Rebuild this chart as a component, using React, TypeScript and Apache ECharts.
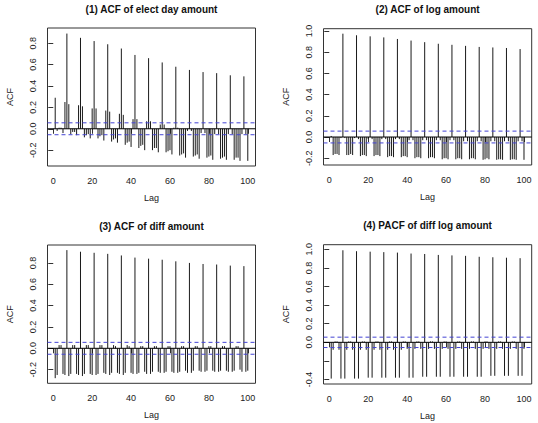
import React, { useEffect, useRef } from "react";
import * as echarts from "echarts";

// Lags 1..100 shared by every panel
const lags: number[] = Array.from({ length: 100 }, (_, i) => i + 1);

// (1) ACF of elect day amount
const acfElect: number[] = [
  0.29, -0.02, 0.01, 0.01, -0.04, 0.25, 0.89,
  0.23, -0.05, -0.03, -0.03, -0.06, 0.22, 0.85,
  0.21, -0.08, -0.06, -0.05, -0.09, 0.19, 0.82,
  0.19, -0.09, -0.07, -0.06, -0.11, 0.17, 0.79,
  0.16, -0.12, -0.10, -0.09, -0.13, 0.14, 0.75,
  0.13, -0.15, -0.13, -0.12, -0.17, 0.09, 0.69,
  0.09, -0.18, -0.16, -0.15, -0.20, 0.07, 0.66,
  0.07, -0.20, -0.18, -0.18, -0.22, 0.04, 0.62,
  0.04, -0.22, -0.21, -0.20, -0.24, 0.01, 0.58,
  0.01, -0.25, -0.24, -0.23, -0.27, -0.02, 0.55,
  -0.02, -0.26, -0.25, -0.24, -0.28, -0.04, 0.53,
  -0.04, -0.27, -0.26, -0.25, -0.29, -0.05, 0.52,
  -0.05, -0.28, -0.27, -0.26, -0.29, -0.05, 0.50,
  -0.05, -0.29, -0.27, -0.27, -0.30, -0.05, 0.49,
  -0.05, -0.30,
];

// (2) ACF of log amount
const acfLog: number[] = [
  0.01, -0.17, -0.16, -0.16, -0.17, -0.01, 0.975,
  -0.01, -0.17, -0.17, -0.16, -0.17, -0.01, 0.96,
  -0.02, -0.18, -0.17, -0.17, -0.18, -0.02, 0.95,
  -0.02, -0.18, -0.17, -0.17, -0.18, -0.02, 0.94,
  -0.02, -0.19, -0.18, -0.18, -0.19, -0.02, 0.925,
  -0.02, -0.19, -0.18, -0.18, -0.19, -0.03, 0.91,
  -0.03, -0.20, -0.19, -0.19, -0.20, -0.03, 0.895,
  -0.03, -0.20, -0.19, -0.19, -0.20, -0.03, 0.88,
  -0.03, -0.21, -0.20, -0.20, -0.21, -0.03, 0.87,
  -0.03, -0.21, -0.20, -0.20, -0.21, -0.04, 0.86,
  -0.04, -0.21, -0.20, -0.20, -0.21, -0.04, 0.85,
  -0.04, -0.215, -0.21, -0.20, -0.21, -0.04, 0.845,
  -0.04, -0.215, -0.21, -0.21, -0.215, -0.04, 0.84,
  -0.04, -0.215, -0.21, -0.21, -0.215, -0.04, 0.83,
  -0.04, -0.215,
];

// (3) ACF of diff amount
const acfDiff: number[] = [
  -0.28, -0.25, 0.03, 0.03, -0.24, -0.25, 0.92,
  -0.26, -0.24, 0.03, 0.03, -0.24, -0.25, 0.905,
  -0.26, -0.24, 0.03, 0.03, -0.24, -0.25, 0.895,
  -0.25, -0.24, 0.03, 0.03, -0.23, -0.24, 0.885,
  -0.25, -0.23, 0.03, 0.02, -0.23, -0.24, 0.87,
  -0.25, -0.23, 0.03, 0.02, -0.23, -0.24, 0.85,
  -0.24, -0.23, 0.02, 0.02, -0.22, -0.24, 0.84,
  -0.24, -0.22, 0.02, 0.02, -0.22, -0.23, 0.83,
  -0.23, -0.22, 0.02, 0.02, -0.22, -0.23, 0.815,
  -0.23, -0.22, 0.02, 0.02, -0.21, -0.23, 0.80,
  -0.23, -0.21, 0.02, 0.02, -0.21, -0.22, 0.79,
  -0.22, -0.21, 0.02, 0.02, -0.21, -0.22, 0.785,
  -0.22, -0.21, 0.02, 0.02, -0.21, -0.22, 0.775,
  -0.22, -0.21, 0.02, 0.02, -0.20, -0.22, 0.77,
  -0.22, -0.21,
];

// (4) PACF of diff log amount
const pacfDiffLog: number[] = [
  -0.39, -0.08, 0.01, 0.01, -0.08, -0.39, 0.99,
  -0.39, -0.08, 0.01, 0.01, -0.08, -0.39, 0.98,
  -0.39, -0.08, 0.01, 0.01, -0.08, -0.38, 0.975,
  -0.38, -0.08, 0.01, 0.01, -0.08, -0.38, 0.97,
  -0.38, -0.08, 0.01, 0.01, -0.08, -0.38, 0.965,
  -0.38, -0.08, 0.01, 0.01, -0.07, -0.38, 0.955,
  -0.38, -0.07, 0.01, 0.01, -0.07, -0.37, 0.95,
  -0.37, -0.07, 0.01, 0.01, -0.07, -0.37, 0.94,
  -0.37, -0.07, 0.01, 0.01, -0.07, -0.37, 0.935,
  -0.37, -0.07, 0.01, 0.01, -0.07, -0.37, 0.93,
  -0.37, -0.07, 0.01, 0.01, -0.07, -0.37, 0.92,
  -0.37, -0.07, 0.01, 0.01, -0.07, -0.36, 0.915,
  -0.36, -0.07, 0.01, 0.01, -0.07, -0.36, 0.91,
  -0.36, -0.07, 0.01, 0.01, -0.07, -0.36, 0.905,
  -0.36, -0.07,
];

// 95% white-noise bound drawn as blue dashed lines
const ciBound = 0.0557;

const titles = [
  "(1) ACF of elect day amount",
  "(2) ACF of log amount",
  "(3) ACF of diff amount",
  "(4) PACF of diff log amount",
];
const xTicks = [0, 20, 40, 60, 80, 100];
const yTicks1 = [-0.2, 0, 0.2, 0.4, 0.6, 0.8];
const yTicks2 = [-0.2, 0, 0.2, 0.4, 0.6, 0.8, 1.0];
const yTicks3 = [-0.2, 0, 0.2, 0.4, 0.6, 0.8];
const yTicks4 = [-0.4, -0.2, 0, 0.2, 0.4, 0.6, 0.8, 1.0];
const yLabels4 = [-0.4, 0, 0.2, 0.4, 0.6, 0.8, 1.0];

const FONT = "'Liberation Sans', Arial, Helvetica, sans-serif";
const X_MIN = -2.96;
const X_MAX = 103.96;

type Panel = {
  values: number[];
  grid: { left: number; top: number; width: number; height: number };
  yMin: number;
  yMax: number;
  yTicks: number[];
  yLabels: number[];
  title: string;
};

const panels: Panel[] = [
  { values: acfElect, grid: { left: 47.5, top: 28, width: 208, height: 138 }, yMin: -0.348, yMax: 0.942, yTicks: yTicks1, yLabels: yTicks1, title: titles[0] },
  { values: acfLog, grid: { left: 323.5, top: 28.7, width: 208.2, height: 136.3 }, yMin: -0.264, yMax: 1.022, yTicks: yTicks2, yLabels: yTicks2, title: titles[1] },
  { values: acfDiff, grid: { left: 47.5, top: 245, width: 208, height: 138.3 }, yMin: -0.328, yMax: 0.968, yTicks: yTicks3, yLabels: yTicks3, title: titles[2] },
  { values: pacfDiffLog, grid: { left: 323.5, top: 244.7, width: 208.2, height: 139.3 }, yMin: -0.448, yMax: 1.05, yTicks: yTicks4, yLabels: yLabels4, title: titles[3] },
];

function buildOption() {
  const grids: any[] = [];
  const xAxes: any[] = [];
  const yAxes: any[] = [];
  const series: any[] = [];
  const graphics: any[] = [];

  panels.forEach((p, i) => {
    grids.push({
      ...p.grid,
      show: true,
      borderColor: "#333",
      borderWidth: 1,
      backgroundColor: "transparent",
      containLabel: false,
    });
    xAxes.push({
      type: "value",
      gridIndex: i,
      min: X_MIN,
      max: X_MAX,
      name: "Lag",
      nameLocation: "middle",
      nameGap: 27,
      nameTextStyle: { fontFamily: FONT, fontSize: 9, color: "#222" },
      axisLine: { show: false },
      splitLine: { show: false },
      axisTick: { show: true, length: 5, inside: false, customValues: xTicks, lineStyle: { color: "#333" } },
      axisLabel: { customValues: xTicks, fontFamily: FONT, fontSize: 9, color: "#222", margin: 10 },
    });
    yAxes.push({
      type: "value",
      gridIndex: i,
      min: p.yMin,
      max: p.yMax,
      name: "ACF",
      nameLocation: "middle",
      nameGap: 33,
      nameTextStyle: { fontFamily: FONT, fontSize: 9, color: "#222" },
      axisLine: { show: false },
      splitLine: { show: false },
      axisTick: { show: true, length: 5, inside: false, customValues: p.yTicks, lineStyle: { color: "#333" } },
      axisLabel: {
        customValues: p.yLabels,
        rotate: 90,
        fontFamily: FONT,
        fontSize: 9,
        color: "#222",
        margin: 10,
        formatter: (v: number) => v.toFixed(1),
      },
    });

    // vertical spikes, one per lag
    series.push({
      type: "custom",
      xAxisIndex: i,
      yAxisIndex: i,
      data: lags.map((lag, k) => [lag, p.values[k]]),
      renderItem: (_params: any, api: any) => {
        const lag = api.value(0);
        const v = api.value(1);
        const a = api.coord([lag, 0]);
        const b = api.coord([lag, v]);
        return {
          type: "line",
          shape: { x1: a[0], y1: a[1], x2: b[0], y2: b[1] },
          style: { stroke: "#1a1a1a", lineWidth: 1 },
        };
      },
      silent: true,
      z: 2,
    });

    // zero line
    series.push({
      type: "line",
      xAxisIndex: i,
      yAxisIndex: i,
      data: [[X_MIN, 0], [X_MAX, 0]],
      symbol: "none",
      lineStyle: { color: "#000", width: 1 },
      silent: true,
      z: 3,
    });
    // confidence bounds
    [ciBound, -ciBound].forEach((c) => {
      series.push({
        type: "line",
        xAxisIndex: i,
        yAxisIndex: i,
        data: [[X_MIN, c], [X_MAX, c]],
        symbol: "none",
        lineStyle: { color: "#4444d4", width: 1, type: [4, 3] },
        silent: true,
        z: 3,
      });
    });

    graphics.push({
      type: "text",
      x: p.grid.left + p.grid.width / 2,
      y: p.grid.top - 19,
      style: {
        text: p.title,
        fontFamily: FONT,
        fontSize: 10,
        fontWeight: "bold",
        fill: "#111",
        textAlign: "center",
        textVerticalAlign: "middle",
      },
    });
  });

  return {
    animation: false,
    backgroundColor: "#fff",
    grid: grids,
    xAxis: xAxes,
    yAxis: yAxes,
    series,
    graphic: graphics,
  };
}

export default function App() {
  const ref = useRef<HTMLDivElement>(null);
  useEffect(() => {
    document.body.style.margin = "0";
    if (!ref.current) return;
    const chart = echarts.init(ref.current, null, { renderer: "svg" });
    chart.setOption(buildOption() as any);
    return () => chart.dispose();
  }, []);
  return <div ref={ref} style={{ width: 538, height: 423 }} />;
}
